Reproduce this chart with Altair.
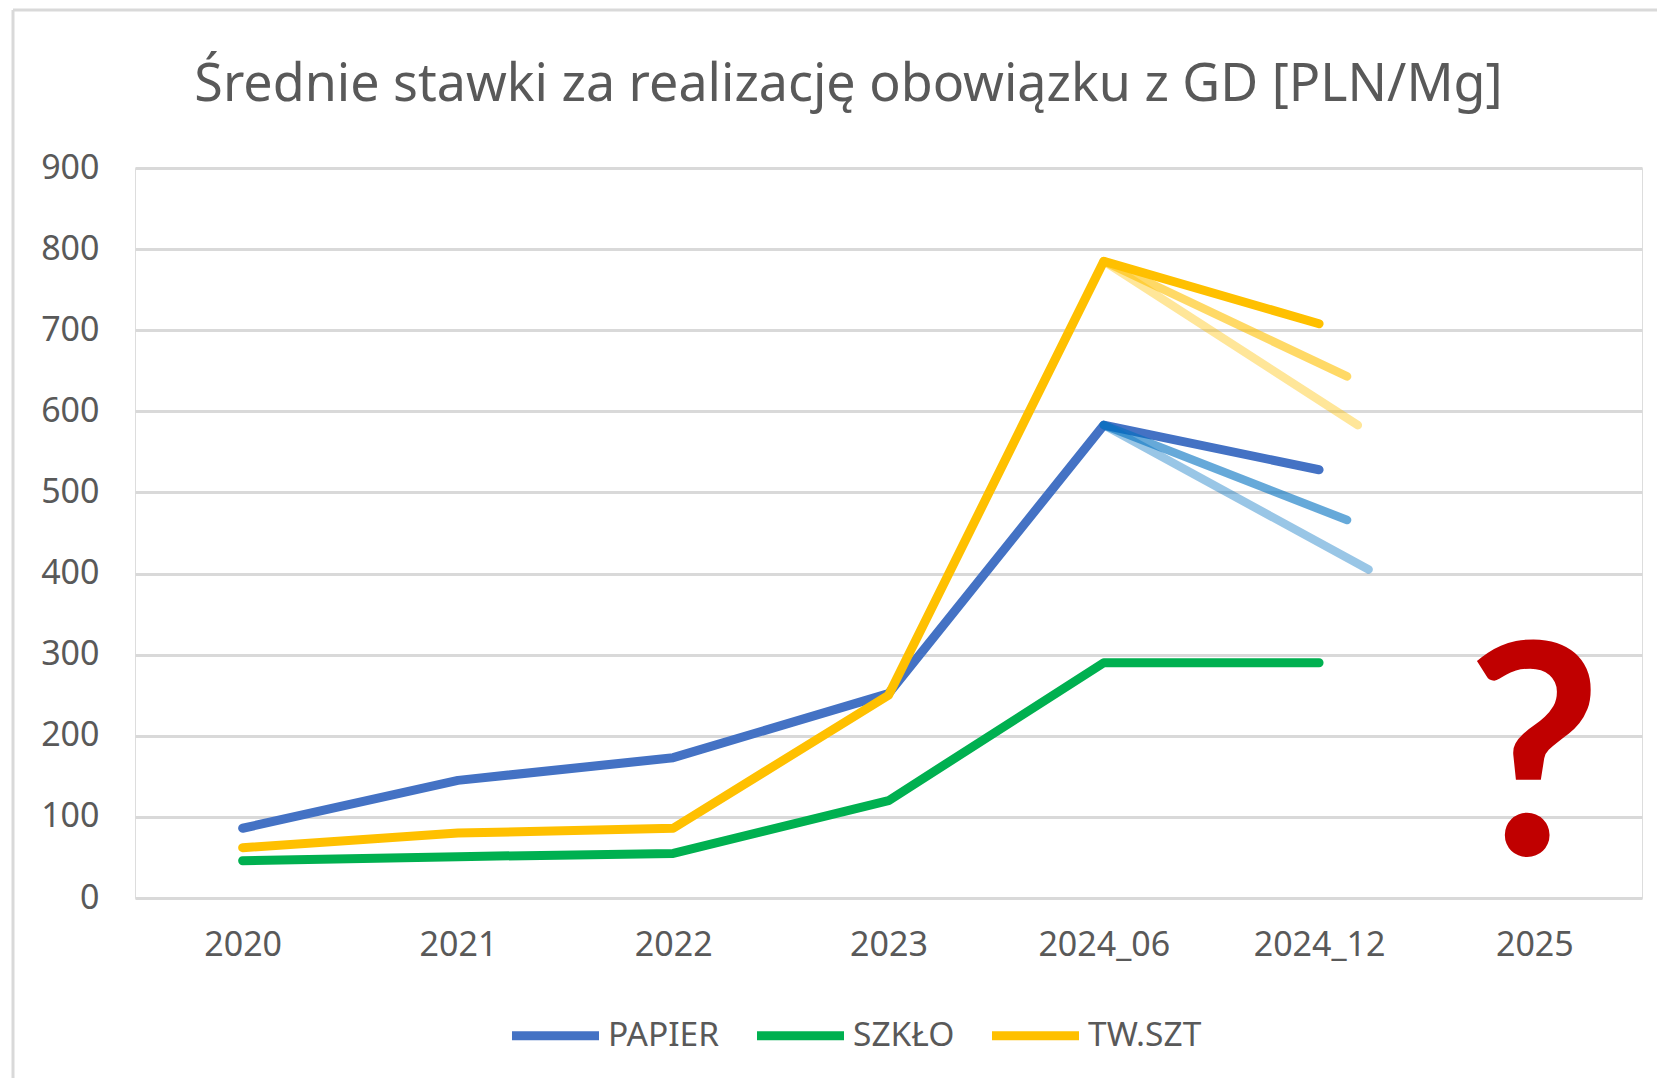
import altair as alt
import pandas as pd

# ---- data ----
categories = ["2020", "2021", "2022", "2023", "2024_06", "2024_12", "2025"]
series_names = ["PAPIER", "SZKŁO", "TW.SZT"]
series_colors = ["#4472C4", "#00B050", "#FFC000"]

papier = [86, 145, 173, 252, 583, 528]
szklo = [46, 51, 55, 120, 290, 290]
tw_szt = [62, 80, 86, 250, 785, 708]

# scenario branches starting at 2024_06 (x given as category position)
papier_branch_x = [5.13, 5.23]
papier_branch_end = [466, 405]
tw_branch_x = [5.13, 5.18]
tw_branch_end = [643, 583]
branch_opacity = [0.6, 0.4]
papier_branch_color = "#0070C0"
tw_branch_color = "#FFC000"

question_label = "?"
question_category = "2025"
question_value = 53

title_text = "Średnie stawki za realizację obowiązku z GD [PLN/Mg]"

# ---- build tables ----
rows = []
for name, vals in zip(series_names, [papier, szklo, tw_szt]):
    for i, v in enumerate(vals):
        rows.append({"x": i, "value": v, "series": name})
df_main = pd.DataFrame(rows)

brows = []
start_idx = categories.index("2024_06")
for sname, start_vals, bx, bend, col in [
    ("PAPIER", papier, papier_branch_x, papier_branch_end, papier_branch_color),
    ("TW.SZT", tw_szt, tw_branch_x, tw_branch_end, tw_branch_color),
]:
    for k, (xe, ye) in enumerate(zip(bx, bend)):
        bid = f"{sname}_{k}"
        brows.append({"x": start_idx, "value": start_vals[start_idx], "bid": bid,
                      "col": col, "op": branch_opacity[k]})
        brows.append({"x": xe, "value": ye, "bid": bid, "col": col, "op": branch_opacity[k]})
df_branch = pd.DataFrame(brows)

df_q = pd.DataFrame({"x": [categories.index(question_category)],
                     "value": [question_value], "t": [question_label]})

W, H = 1507, 730
FONT = "Noto Sans"
GREY = "#595959"

label_expr = "[" + ",".join(f"'{c}'" for c in categories) + "][datum.value]"

x_enc = alt.X("x:Q",
              scale=alt.Scale(domain=[-0.5, len(categories) - 0.5], nice=False, zero=False),
              axis=alt.Axis(values=list(range(len(categories))), labelExpr=label_expr,
                            grid=False, domain=False, ticks=False, title=None,
                            labelFont=FONT, labelFontSize=34, labelColor=GREY,
                            labelPadding=30))
y_enc = alt.Y("value:Q",
              scale=alt.Scale(domain=[0, 900], nice=False),
              axis=alt.Axis(values=list(range(0, 901, 100)), grid=True, gridColor="#D9D9D9",
                            gridWidth=3, domain=False, ticks=False, title=None,
                            labelFont=FONT, labelFontSize=34, labelColor=GREY,
                            labelPadding=36))

main = alt.Chart(df_main).mark_line(strokeWidth=9, strokeCap="round", strokeJoin="round").encode(
    x=x_enc,
    y=y_enc,
    color=alt.Color("series:N",
                    scale=alt.Scale(domain=series_names, range=series_colors),
                    legend=alt.Legend(orient="none", legendX=372, legendY=819,
                                      direction="horizontal", title=None,
                                      symbolType="stroke", symbolSize=7570,
                                      symbolStrokeWidth=9, labelOffset=4,
                                      columnPadding=18, labelFont=FONT,
                                      labelFontSize=33.5, labelColor=GREY,
                                      labelLimit=400)),
)

branches = alt.Chart(df_branch).mark_line(strokeWidth=8.5, strokeCap="round", strokeJoin="round").encode(
    x="x:Q",
    y="value:Q",
    detail="bid:N",
    color=alt.Color("col:N", scale=None),
    strokeOpacity=alt.StrokeOpacity("op:Q", scale=None),
)

qmark = alt.Chart(df_q).mark_text(font="Lato", fontWeight="bold", fontSize=295,
                                  color="#C00000", baseline="alphabetic", align="center").encode(
    x="x:Q", y="value:Q", text="t:N")

frame_top = alt.Chart(df_q).mark_rule(color="#D9D9D9", strokeWidth=3).encode(
    x=alt.value(-122), x2=alt.value(W + 20), y=alt.value(-158))
frame_left = alt.Chart(df_q).mark_rule(color="#D9D9D9", strokeWidth=3).encode(
    x=alt.value(-122), y=alt.value(-158), y2=alt.value(H + 200))

chart = alt.layer(frame_top, frame_left, main, branches, qmark).properties(
    width=W, height=H,
    title=alt.TitleParams(title_text, font=FONT, fontSize=52, fontWeight="normal",
                          color=GREY, anchor="middle", frame="group", offset=-144,
                          baseline="alphabetic", dx=-40),
    padding={"left": 127, "top": 160, "right": 15, "bottom": 180},
    autosize=alt.AutoSizeParams(type="none"),
).configure_view(stroke=None).configure(background="white")

chart.save("out.html", embed_options={"renderer": "svg", "actions": False})
